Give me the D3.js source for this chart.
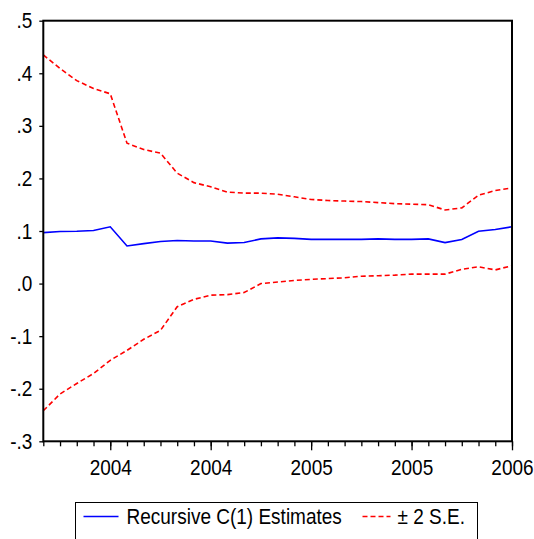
<!DOCTYPE html>
<html>
<head>
<meta charset="utf-8">
<script src="https://cdn.jsdelivr.net/npm/d3@7"></script>
<style>
  body { margin: 0; background: #fff; }
  text { font-family: "Liberation Sans", Arial, sans-serif; fill: #000; }
</style>
</head>
<body>
<svg></svg>
<script>
// monthly points, first one is 2003M09
const periods = d3.range(29);
const tickLabels = [[4, "2004"], [10, "2004"], [16, "2005"], [22, "2005"], [28, "2006"]];

const estimate = [0.097, 0.099, 0.0995, 0.101, 0.108, 0.0715, 0.076, 0.080, 0.082, 0.081,
  0.081, 0.077, 0.078, 0.085, 0.087, 0.086, 0.084, 0.084, 0.084, 0.084,
  0.085, 0.084, 0.084, 0.085, 0.078, 0.084, 0.0995, 0.103, 0.108];

const upper = [0.435, 0.409, 0.386, 0.371, 0.361, 0.267, 0.255, 0.248, 0.210, 0.192,
  0.184, 0.174, 0.172, 0.172, 0.170, 0.165, 0.160, 0.158, 0.157, 0.156,
  0.154, 0.152, 0.151, 0.150, 0.140, 0.144, 0.168, 0.177, 0.182];

const lower = [-0.242, -0.210, -0.190, -0.171, -0.146, -0.127, -0.106, -0.089, -0.044, -0.030,
  -0.022, -0.021, -0.017, 0.000, 0.003, 0.006, 0.008, 0.0095, 0.011, 0.014,
  0.015, 0.016, 0.018, 0.018, 0.018, 0.027, 0.032, 0.026, 0.034];

const yTicks = [-0.3, -0.2, -0.1, 0, 0.1, 0.2, 0.3, 0.4, 0.5];

const width = 534, height = 539;
const margin = { top: 20.7, right: 22, bottom: 97.7, left: 43.3 };
const stretch = "scale(1,1.15)"; // eviews text is a bit taller than arial

const svg = d3.select("svg")
  .attr("width", width)
  .attr("height", height);

const x = d3.scaleLinear()
  .domain([0, 28])
  .range([margin.left, width - margin.right]);

const y = d3.scaleLinear()
  .domain([-0.3, 0.5])
  .range([height - margin.bottom, margin.top]);

// .5  .0  -.1  (plain hyphen, no leading zero)
const fmt = d => d3.format(".1f")(d).replace("0.", ".").replace("−", "-");

// minor x ticks
svg.append("g")
  .attr("transform", `translate(0,${y(-0.3)})`)
  .call(d3.axisBottom(x).tickValues(periods).tickSize(5).tickFormat(""))
  .call(g => g.select(".domain").remove())
  .selectAll("line").attr("stroke-width", 1.3);

// major x ticks with labels
svg.append("g")
  .attr("transform", `translate(0,${y(-0.3)})`)
  .call(d3.axisBottom(x).tickValues(tickLabels.map(d => d[0])).tickSize(9).tickPadding(7)
    .tickFormat(d => tickLabels.find(t => t[0] === d)[1]))
  .call(g => g.select(".domain").remove())
  .call(g => g.selectAll("line").attr("stroke-width", 1.3))
  .selectAll("text")
  .style("font-size", "19px")
  .attr("transform", stretch);

// y axis
svg.append("g")
  .attr("transform", `translate(${margin.left},0)`)
  .call(d3.axisLeft(y).tickValues(yTicks).tickSize(4).tickPadding(7).tickFormat(fmt))
  .call(g => g.select(".domain").remove())
  .call(g => g.selectAll("line").attr("stroke-width", 1.3))
  .selectAll("text")
  .style("font-size", "19px")
  .attr("transform", stretch);

const line = data => d3.line()
  .x((d, i) => x(periods[i]))
  .y(d => y(d))(data);

// +/- 2 S.E. bands
[upper, lower].forEach(band => {
  svg.append("path")
    .attr("d", line(band))
    .attr("fill", "none")
    .attr("stroke", "#ff0000")
    .attr("stroke-width", 1.6)
    .attr("stroke-dasharray", "5,3");
});

// recursive estimate
svg.append("path")
  .attr("d", line(estimate))
  .attr("fill", "none")
  .attr("stroke", "#0000ff")
  .attr("stroke-width", 1.6);

// frame
svg.append("rect")
  .attr("x", x(0))
  .attr("y", y(0.5))
  .attr("width", x(28) - x(0))
  .attr("height", y(-0.3) - y(0.5))
  .attr("fill", "none")
  .attr("stroke", "#000")
  .attr("stroke-width", 2);

// legend
const legend = svg.append("g").attr("transform", "translate(75.5,502.5)");
legend.append("rect")
  .attr("width", 402)
  .attr("height", 50)
  .attr("fill", "#fff")
  .attr("stroke", "#000")
  .attr("stroke-width", 1);
legend.append("line")
  .attr("x1", 8).attr("x2", 43).attr("y1", 14).attr("y2", 14)
  .attr("stroke", "#0000ff").attr("stroke-width", 1.6);
legend.append("text")
  .attr("transform", `translate(51,21) ${stretch}`)
  .style("font-size", "19px")
  .text("Recursive C(1) Estimates");
legend.append("line")
  .attr("x1", 287).attr("x2", 315).attr("y1", 14).attr("y2", 14)
  .attr("stroke", "#ff0000").attr("stroke-width", 1.6)
  .attr("stroke-dasharray", "5,3");
legend.append("text")
  .attr("transform", `translate(322,21) ${stretch}`)
  .style("font-size", "19px")
  .text("± 2 S.E.");
</script>
</body>
</html>
